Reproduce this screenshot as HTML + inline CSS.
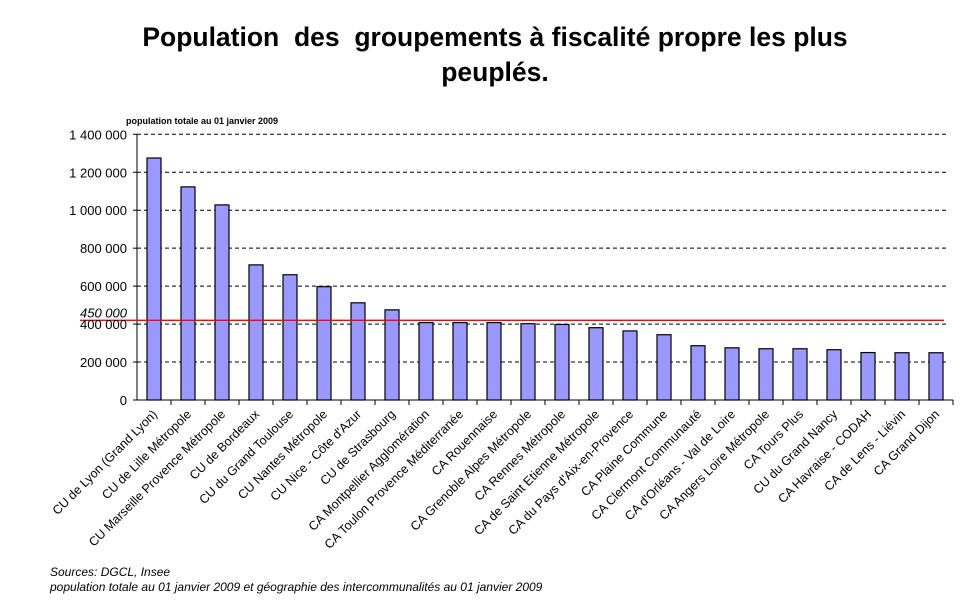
<!DOCTYPE html>
<html><head><meta charset="utf-8"><style>
body{margin:0;background:#fff;width:970px;height:605px;overflow:hidden;font-family:"Liberation Sans",Arial,sans-serif}
text{white-space:pre}
</style></head><body>
<svg width="970" height="605" xmlns="http://www.w3.org/2000/svg">
<text x="495" y="46" text-anchor="middle" font-size="26.5" font-weight="bold">Population  des  groupements à fiscalité propre les plus</text>
<text x="495" y="81" text-anchor="middle" font-size="26.5" font-weight="bold">peuplés.</text>
<text x="126" y="124" font-size="9" font-weight="bold">population totale au 01 janvier 2009</text>
<g id="grid"></g><g id="bars"></g><g id="axes"></g><g id="labels"></g>
<text x="50" y="576" font-size="12" font-style="italic">Sources: DGCL, Insee</text>
<text x="50" y="591" font-size="12" font-style="italic">population totale au 01 janvier 2009 et géographie des intercommunalités au 01 janvier 2009</text>
</svg>
<script>
const categories=["CU de Lyon (Grand Lyon)","CU de Lille Métropole","CU Marseille Provence Métropole","CU de Bordeaux","CU du Grand Toulouse","CU Nantes Métropole","CU Nice - Côte d'Azur","CU de Strasbourg","CA Montpellier Agglomération","CA Toulon Provence Méditerranée","CA Rouennaise","CA Grenoble Alpes Métropole","CA Rennes Métropole","CA de Saint Etienne Métropole","CA du Pays d'Aix-en-Provence","CA Plaine Commune","CA Clermont Communauté","CA d'Orléans - Val de Loire","CA Angers Loire Métropole","CA Tours Plus","CU du Grand Nancy","CA Havraise - CODAH","CA de Lens - Liévin","CA Grand Dijon"];
const values=[1275000,1123000,1028000,712000,660000,597000,512000,475000,408000,408000,408000,402000,398000,381000,364000,344000,286000,275000,270000,270000,265000,250000,249000,249000];
const yTicks=[0,200000,400000,600000,800000,1000000,1200000,1400000];
const yTickLabels=["0","200 000","400 000","600 000","800 000","1 000 000","1 200 000","1 400 000"];
const threshold=420000;
const thresholdLabel="450 000";
const NS="http://www.w3.org/2000/svg";
const x0=137,y0=400,yTop=134.3,yMax=1400000,step=34,bw=14;
const y=v=>y0-(v/yMax)*(y0-yTop);
const xc=i=>x0+step*(i+0.5);
function mk(tag,attrs,parent){const e=document.createElementNS(NS,tag);for(const k in attrs)e.setAttribute(k,attrs[k]);document.getElementById(parent).appendChild(e);return e;}
yTicks.forEach((t,i)=>{
 if(t>0){const g=mk('line',{x1:x0,x2:949,y1:y(t),y2:y(t),stroke:'#000','stroke-dasharray':'4,3','stroke-width':1},'grid');
 
 }
 const tk=mk('line',{x1:x0-4,x2:x0,y1:y(t),y2:y(t),stroke:'#000'},'axes');
 
 
 const l=mk('text',{x:x0-10,y:y(t)+5,'text-anchor':'end','font-size':13},'labels');l.textContent=yTickLabels[i];
 
 
});
values.forEach((v,i)=>{
 const r=mk('rect',{x:xc(i)-bw/2,y:y(v),width:bw,height:y0-y(v),fill:'#9999ff',stroke:'#000','stroke-width':1.2},'bars');
 
 
 const tk=mk('line',{x1:x0+step*(i+1),x2:x0+step*(i+1),y1:y0,y2:y0+5,stroke:'#000'},'axes');
 
 
 const tx=xc(i)+4,ty=y0+15;
 const l=mk('text',{x:tx,y:ty,'text-anchor':'end','font-size':12.5,transform:`rotate(-45 ${tx} ${ty})`},'labels');l.textContent=categories[i];
 
 
});
const ax=mk('line',{x1:x0,x2:x0,y1:yTop,y2:y0,stroke:'#000'},'axes');


const xa=mk('line',{x1:x0,x2:953,y1:y0,y2:y0,stroke:'#000'},'axes');


const rl=mk('line',{x1:80,x2:944,y1:y(threshold),y2:y(threshold),stroke:'#ff0000','stroke-width':1.3},'axes');


const rt=mk('text',{x:x0-10,y:y(threshold)-3,'text-anchor':'end','font-size':13,'font-style':'italic'},'labels');rt.textContent=thresholdLabel;


</script>
</body></html>
